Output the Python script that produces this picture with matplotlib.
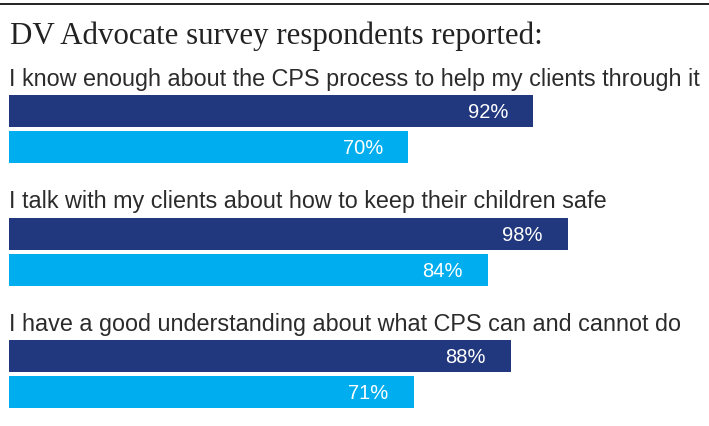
import matplotlib.pyplot as plt
from matplotlib.lines import Line2D

# Data
questions = [
    "I know enough about the CPS process to help my clients through it",
    "I talk with my clients about how to keep their children safe",
    "I have a good understanding about what CPS can and cannot do",
]
dark_values = [92, 98, 88]
light_values = [70, 84, 71]
title = "DV Advocate survey respondents reported:"

dark_color = "#21387f"
light_color = "#00aeef"
text_color = "#2b2b2b"

W, H = 709, 427
fig = plt.figure(figsize=(W / 100, H / 100), dpi=100)

# Axes: x runs 0-100 % across bar area, y in pixel rows (top-down)
ax = fig.add_axes([9 / W, 0, 570 / W, 1])
ax.set_xlim(0, 100)
ax.set_ylim(H, 0)
ax.axis("off")

group_pitch = 122.5
first_bar = 112
bar_pitch = 36
bar_h = 32

for i, (q, d, l) in enumerate(zip(questions, dark_values, light_values)):
    y1 = first_bar + i * group_pitch
    y2 = y1 + bar_pitch
    ax.barh(y1, d, height=bar_h, color=dark_color, left=0)
    ax.barh(y2, l, height=bar_h, color=light_color, left=0)
    ax.text(d - 4.4, y1 + 1, f"{d}%", color="white", ha="right", va="center",
            fontsize=14.5, family="Liberation Sans")
    ax.text(l - 4.4, y2 + 1, f"{l}%", color="white", ha="right", va="center",
            fontsize=14.5, family="Liberation Sans")
    ax.text(0, y1 - 26, q, color=text_color, ha="left", va="baseline",
            fontsize=16.85, family="Liberation Sans", clip_on=False)

# Title and top rule
fig.text(10 / W, 1 - 44 / H, title, family="Liberation Serif", fontsize=22.2,
         color="#222222", ha="left", va="baseline")
fig.add_artist(Line2D([0, 1], [1 - 5 / H, 1 - 5 / H], color="#111111", lw=1.3))

fig.savefig("out.png", dpi=100)
